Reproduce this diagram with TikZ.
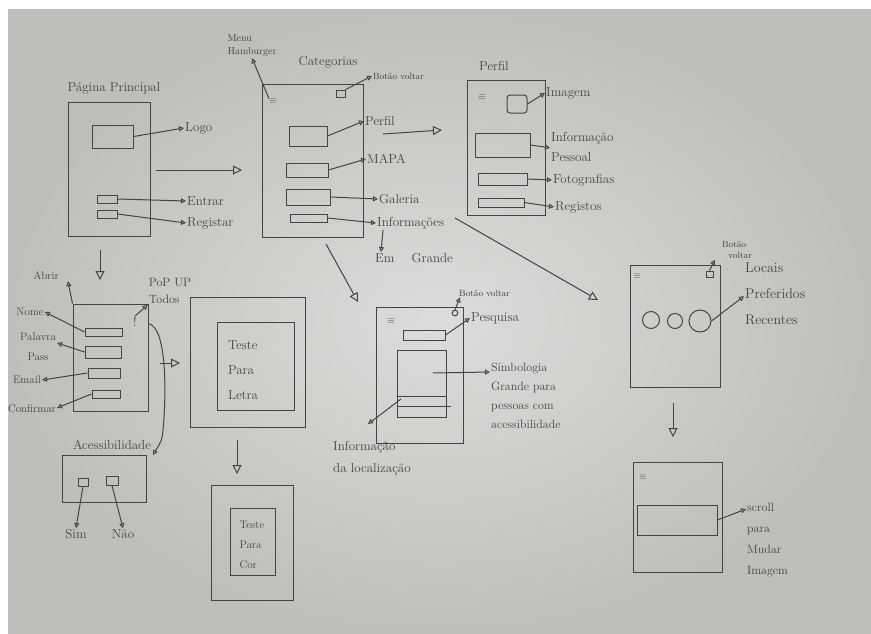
\documentclass[tikz,border=0pt]{standalone}
\usetikzlibrary{arrows.meta,fit,positioning}
\definecolor{penc}{HTML}{444444}
\definecolor{paperin}{HTML}{DCDCDA}
\definecolor{paperout}{HTML}{BEBEBB}
\tikzset{
  pen/.style={draw=penc, line width=1pt},
  screen/.style={pen, inner sep=0pt},
  box/.style={pen, inner sep=0pt},
  lbl/.style={text=penc, inner sep=1pt, font=\fontsize{13}{15}\selectfont},
  mlbl/.style={lbl, align=left, font=\fontsize{13}{24}\selectfont},
  tiny/.style={lbl, font=\fontsize{9}{11}\selectfont},
  ham/.style={text=penc, inner sep=0pt, font=\normalsize},
  arr/.style={pen, -{Triangle[open,length=5pt,width=5pt]}},
  bigarr/.style={pen, -{Triangle[open,length=9pt,width=9pt]}},
}
\begin{document}
\begin{tikzpicture}[x=1pt,y=-1pt]
\useasboundingbox (0,0) rectangle (871,633);
% paper / photo background
\fill[white] (0,0) rectangle (871,633);
\shade[inner color=paperin, outer color=paperout] (8,9) rectangle (871,633);

% ---------- Screen 1: Pagina Principal ----------
\node[screen, fit={(68,102)(150,236)}] (s1) {};
\node[lbl] (t1) at (114,88) {Página Principal};
\node[box, fit={(92,125)(133,148)}] (b1logo) {};
\node[lbl, anchor=west] (lLogo) at (184,128) {Logo};
\node[box, fit={(97,195)(117,203)}] (b1e) {};
\node[box, fit={(97,210)(117,218)}] (b1r) {};
\node[lbl, anchor=west] (lEnt) at (186,201) {Entrar};
\node[lbl, anchor=west] (lReg) at (186,223) {Registar};
\draw[arr] (b1logo.east) -- (lLogo.west);
\draw[arr] (b1e.east) -- (lEnt.west);
\draw[arr] (b1r.east) -- (lReg.west);
\coordinate (c1a) at (156,170);
\coordinate (c1b) at (242,170);
\draw[bigarr] (c1a) -- (c1b);
\coordinate (c1d1) at (100,250);
\coordinate (c1d2) at (100,280);
\draw[bigarr] (c1d1) -- (c1d2);

% ---------- Screen 2: Categorias ----------
\node[screen, fit={(262,84)(363,237)}] (s2) {};
\node[lbl] (tCat) at (328,62) {Categorias};
\node[lbl, align=left, font=\fontsize{10}{13}\selectfont] (lMenu) at (252,46) {Menu\\Hamburger};
\node[ham] (ham2) at (273,101) {$\equiv$};
\draw[arr] (ham2.north west) -- (lMenu.south);
\node[box, fit={(336,90)(345,97)}] (bk2) {};
\node[tiny, anchor=west] (lBv2) at (372,76) {Botão voltar};
\draw[arr] (bk2.north east) -- (lBv2.west);
\node[box, fit={(289,126)(327,146)}] (b2a) {};
\node[box, fit={(286,163)(328,177)}] (b2b) {};
\node[box, fit={(286,189)(330,205)}] (b2c) {};
\node[box, fit={(290,214)(327,222)}] (b2d) {};
\node[lbl, anchor=west] (lPerfil) at (364,121) {Perfil};
\node[lbl, anchor=west] (lMapa) at (366,159) {MAPA};
\node[lbl, anchor=west] (lGal) at (378,199) {Galeria};
\node[lbl, anchor=west] (lInfo) at (376,223) {Informações};
\node[lbl, anchor=west] (lEm) at (374,258) {Em \quad Grande};
\draw[arr] (b2a.east) -- (lPerfil.west);
\draw[arr] (b2b.east) -- (lMapa.west);
\draw[arr] (b2c.east) -- (lGal.west);
\draw[arr] (b2d.east) -- (lInfo.west);
\draw[arr] ([xshift=7pt]lInfo.south west) -- ([xshift=7pt]lEm.north west);
\coordinate (c2a) at (383,134);
\coordinate (c2b) at (442,130);
\draw[bigarr] (c2a) -- (c2b);
\coordinate (c2d1) at (326,244);
\coordinate (c2d2) at (358,302);
\draw[bigarr] (c2d1) -- (c2d2);

% ---------- Screen 3: Perfil ----------
\node[screen, fit={(467,80)(545,215)}] (s3) {};
\node[lbl] (tPerfil) at (494,66) {Perfil};
\node[ham] (ham3) at (482,97) {$\equiv$};
\node[box, rounded corners=3pt, fit={(507,95)(527,113)}] (b3img) {};
\node[lbl, anchor=west] (lImg) at (545,93) {Imagem};
\node[box, fit={(475,133)(530,157)}] (b3inf) {};
\node[mlbl, font=\fontsize{13}{20}\selectfont, anchor=north west] (lInf3) at (550,131) {Informação\\Pessoal};
\node[box, fit={(478,173)(527,185)}] (b3foto) {};
\node[lbl, anchor=west] (lFoto) at (552,180) {Fotografias};
\node[box, fit={(478,198)(524,207)}] (b3reg) {};
\node[lbl, anchor=west] (lReg3) at (554,207) {Registos};
\draw[arr] (b3img.east) -- (lImg.west);
\draw[arr] (b3inf.east) -- ([yshift=-1pt]lInf3.west);
\draw[arr] (b3foto.east) -- (lFoto.west);
\draw[arr] (b3reg.east) -- (lReg3.west);
\coordinate (c3a) at (455,218);
\coordinate (c3b) at (598,300);
\draw[bigarr] (c3a) -- (c3b);

% ---------- Screen 4: registo ----------
\node[screen, fit={(73,304)(148,411)}] (s4) {};
\node[box, fit={(85,328)(122,336)}] (f1) {};
\node[box, fit={(85,346)(121,358)}] (f2) {};
\node[box, fit={(88,368)(120,378)}] (f3) {};
\node[box, fit={(92,390)(120,398)}] (f4) {};
\node[lbl, font=\fontsize{11}{13}\selectfont] (lAbrir) at (46,276) {Abrir};
\node[lbl, font=\fontsize{11}{13}\selectfont] (lNome) at (30,312) {Nome};
\node[lbl, align=center, font=\fontsize{11}{20}\selectfont] (lPass) at (38,347) {Palavra\\Pass};
\node[lbl, font=\fontsize{11}{13}\selectfont] (lEmail) at (27,380) {Email};
\node[lbl, font=\fontsize{11}{13}\selectfont] (lConf) at (32,409) {Confirmar};
\draw[arr] (s4.north west) -- ([xshift=8pt]lAbrir.south east);
\draw[arr] (f1.west) -- (lNome.east);
\draw[arr] (f2.west) -- ([yshift=4pt]lPass.east);
\draw[arr] (f3.west) -- (lEmail.east);
\draw[arr] (f4.west) -- ([yshift=-4pt]lConf.north east);
\node[lbl] (excl) at (135,322) {!};
\node[lbl, align=left, font=\fontsize{12}{17}\selectfont] (lPop) at (170,291) {PoP UP\\Todos};
\draw[arr] (excl.north) -- (lPop.south west);

% ---------- Acessibilidade ----------
\node[lbl] (tAcc) at (112,445) {Acessibilidade};
\node[screen, fit={(62,455)(146,502)}] (acc) {};
\node[box, fit={(78,478)(88,486)}] (q1) {};
\node[box, fit={(106,476)(118,485)}] (q2) {};
\node[lbl] (lSim) at (76,534) {Sim};
\node[lbl] (lNao) at (123,534) {Não};
\draw[arr] (q1.south) -- (lSim.north);
\draw[arr] (q2.south) -- (lNao.north);
\draw[arr] ([yshift=-20pt]s4.north east) .. controls (168,328) and (166,400) .. (163,430)
   .. controls (162,440) .. (153,455);

\coordinate (c45a) at (160,363);
\coordinate (c45b) at (180,363);
\draw[bigarr] (c45a) -- (c45b);

% ---------- Screen 5: Teste para letra ----------
\node[screen, fit={(190,297)(305,427)}] (s5) {};
\node[box, fit={(217,322)(294,410)}] (s5in) {};
\node[mlbl, font=\fontsize{13}{25}\selectfont] (t5) at (243,370) {Teste\\Para\\Letra};
\coordinate (c5a) at (237,440);
\coordinate (c5b) at (237,474);
\draw[bigarr] (c5a) -- (c5b);
\node[screen, fit={(211,485)(293,600)}] (s5b) {};
\node[box, fit={(230,508)(275,575)}] (s5bin) {};
\node[mlbl, font=\fontsize{11}{20}\selectfont] (t5b) at (252,545) {Teste\\Para\\Cor};

% ---------- Screen 6: Mapa ----------
\node[screen, fit={(376,307)(463,443)}] (s6) {};
\node[ham] (ham6) at (391,321) {$\equiv$};
\node[pen, circle, inner sep=2pt] (bk6) at (455,313) {};
\node[tiny, anchor=west] (lBv6) at (458,293) {Botão voltar};
\draw[arr] (bk6.north) -- ([xshift=2pt]lBv6.south west);
\node[box, fit={(403,330)(445,340)}] (b6pes) {};
\node[lbl, anchor=west] (lPes) at (470,318) {Pesquisa};
\draw[arr] (b6pes.east) -- (lPes.west);
\node[box, fit={(397,350)(446,417)}] (b6big) {};
\draw[pen] ([yshift=-47pt]b6big.north west) -- ([yshift=-47pt]b6big.north east);
\draw[pen] ([yshift=-57pt]b6big.north west) -- ([yshift=-57pt,xshift=4pt]b6big.north east);
\coordinate (c6s) at (433,373);
\node[mlbl, font=\fontsize{12}{19}\selectfont, anchor=north west] (lSimb) at (490,362) {Símbologia\\Grande para\\pessoas com\\acessibilidade};
\draw[arr] (c6s) -- ([yshift=1pt]lSimb.west |- c6s);
\coordinate (c6i) at (401,399);
\coordinate (c6e) at (368,424);
\draw[arr] (c6i) -- (c6e);
\node[mlbl, font=\fontsize{13}{22}\selectfont, anchor=north west] (lLoc) at (332,440) {Informação\\da localização};

% ---------- Screen 7: Locais ----------
\node[screen, fit={(630,265)(720,387)}] (s7) {};
\node[ham, font=\small] (ham7) at (637,276) {$\equiv$};
\node[box, fit={(706,271)(713,277)}] (bk7) {};
\node[tiny, align=left, font=\fontsize{9}{11}\selectfont] (lBv7) at (737,250) {Botão\\\ \ voltar};
\draw[arr] (bk7.north) -- ([xshift=-6pt]lBv7.south west);
\node[pen, circle, minimum size=17pt, inner sep=0pt] (o1) at (651,320) {};
\node[pen, circle, minimum size=15pt, inner sep=0pt] (o2) at (675,321) {};
\node[pen, circle, minimum size=22pt, inner sep=0pt] (o3) at (700,321) {};
\node[mlbl, font=\fontsize{14}{26}\selectfont, anchor=north west] (lLocais) at (744,262) {Locais\\Preferidos\\Recentes};
\draw[arr] (o3.east) -- ([yshift=-2pt]lLocais.west);
\coordinate (c7a) at (673,403);
\coordinate (c7b) at (673,437);
\draw[bigarr] (c7a) -- (c7b);

% ---------- Screen 8: scroll ----------
\node[screen, fit={(633,462)(722,572)}] (s8) {};
\node[ham, font=\small] (ham8) at (643,477) {$\equiv$};
\node[box, fit={(637,505)(717,535)}] (b8) {};
\node[mlbl, font=\fontsize{12}{21}\selectfont, anchor=north west] (lScroll) at (746,502) {scroll\\para\\Mudar\\Imagem};
\draw[arr] (b8.east) -- ([yshift=-7pt]lScroll.north west);
\end{tikzpicture}
\end{document}
